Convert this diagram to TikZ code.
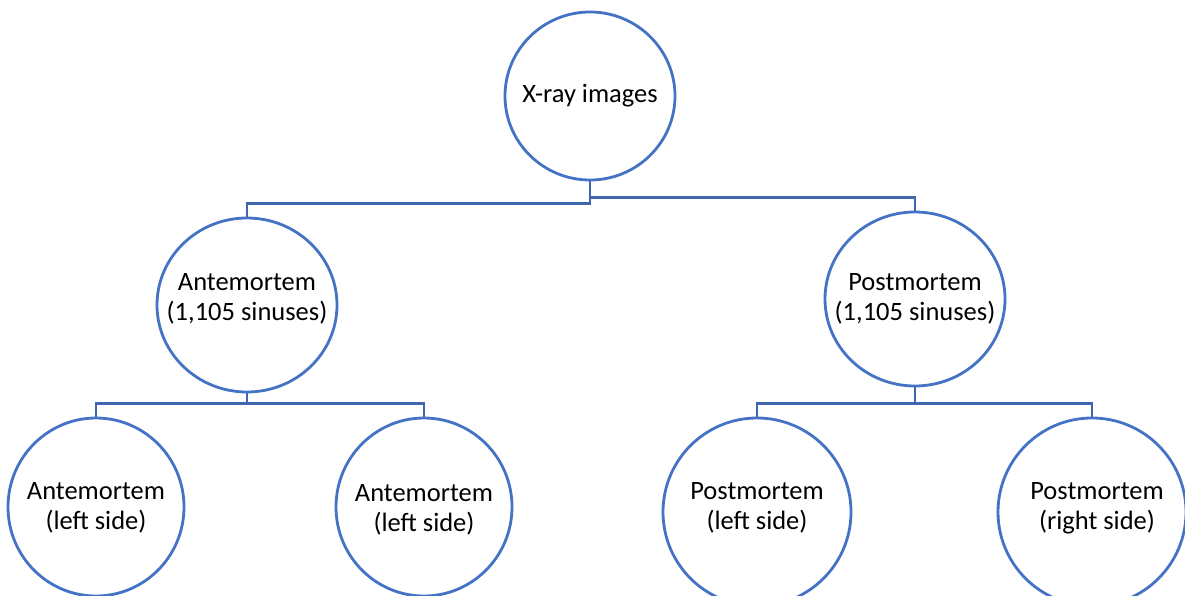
\documentclass[tikz,border=0pt]{standalone}
\usepackage{fontspec}
\setmainfont{Carlito}
\usetikzlibrary{shapes.geometric}
\definecolor{ringblue}{HTML}{4472C4}
\definecolor{linkblue}{HTML}{3F67AF}
\tikzset{
  ring/.style={draw=ringblue, line width=2.8pt, ellipse, inner sep=0pt},
  lbl/.style={align=center, font=\fontsize{26.5}{30}\selectfont, text=black, inner sep=0pt},
  link/.style={draw=linkblue, line width=2.9pt}
}
\begin{document}
\begin{tikzpicture}[x=1pt,y=-1pt]
\useasboundingbox (0,0) rectangle (1185,596);
\clip (0,0) rectangle (1185,596);
\node[ring, minimum width=170pt, minimum height=168pt] (top) at (590,96) {};
\node[lbl] (toptxt) at (590,96) {X-ray images};
\node[ring, minimum width=180pt, minimum height=174pt] (ante) at (247,305) {};
\node[lbl] (antetxt) at (247,299) {Antemortem\\(1,105 sinuses)};
\node[ring, minimum width=180pt, minimum height=174pt] (post) at (915,299) {};
\node[lbl] (posttxt) at (915,299) {Postmortem\\(1,105 sinuses)};
\node[ring, minimum width=176pt, minimum height=178pt] (c1) at (96,507) {};
\node[lbl] (c1txt) at (96,508) {Antemortem\\(left side)};
\node[ring, minimum width=176pt, minimum height=178pt] (c2) at (424,507) {};
\node[lbl] (c2txt) at (424,510) {Antemortem\\(left side)};
\node[ring, minimum width=188pt, minimum height=188pt] (c3) at (757,512) {};
\node[lbl] (c3txt) at (757,508) {Postmortem\\(left side)};
\node[ring, minimum width=188pt, minimum height=188pt] (c4) at (1092,512) {};
\node[lbl] (c4txt) at (1097,508) {Postmortem\\(right side)};
\draw[link] (top.south) -- ++(0,22) -| (ante.north);
\draw[link] (top.south) -- ++(0,16) -| (post.north);
\draw[link] (ante.south) -- ++(0,10) -| (c1.north);
\draw[link] (ante.south) -- ++(0,10) -| (c2.north);
\draw[link] (post.south) -- ++(0,16) -| (c3.north);
\draw[link] (post.south) -- ++(0,16) -| (c4.north);
\end{tikzpicture}
\end{document}
